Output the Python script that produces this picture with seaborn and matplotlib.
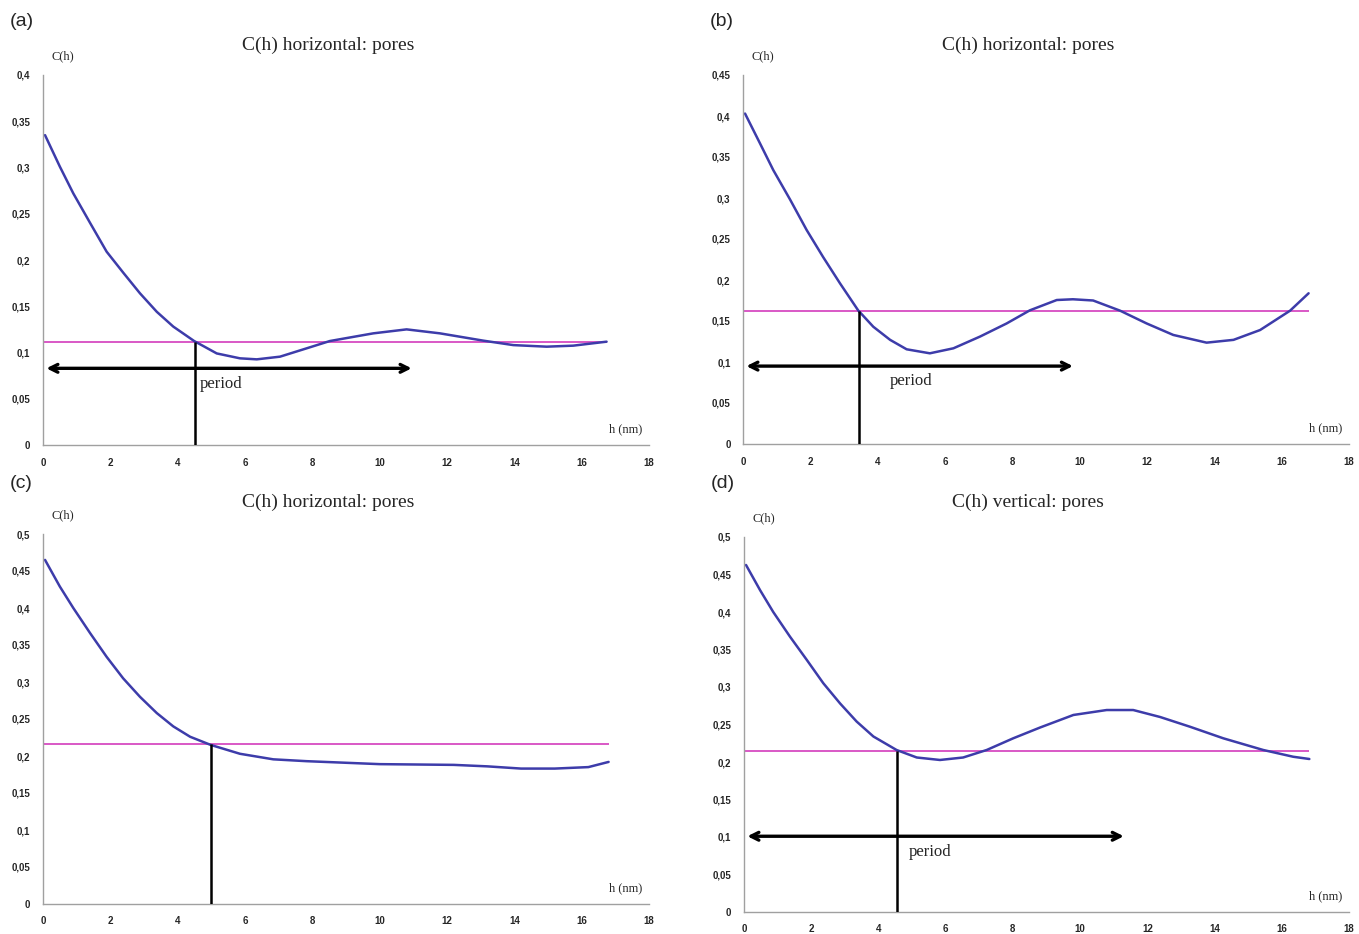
import numpy as np
import pandas as pd
import matplotlib
matplotlib.use("Agg")
import matplotlib.pyplot as plt
import seaborn as sns

sns.set_theme(style="white")
plt.rcParams["font.family"] = ["Liberation Sans", "DejaVu Sans"]

## 1. Data
# (a) horizontal pores
h_a = [0.06, 0.5, 0.9, 1.4, 1.89, 2.39, 2.88, 3.38, 3.87, 4.49, 5.16, 5.85, 6.35, 7.04, 7.83, 8.52,
       9.81, 10.8, 11.79, 13.08, 13.97, 14.96, 15.75, 16.74]
c_a = [0.335, 0.301, 0.272, 0.240, 0.209, 0.186, 0.164, 0.144, 0.128, 0.1124, 0.099, 0.0937, 0.0926,
       0.0955, 0.1045, 0.1124, 0.1207, 0.125, 0.1207, 0.1128, 0.108, 0.1063, 0.1074, 0.1117]
# (b) horizontal pores
h_b = [0.06, 0.5, 0.9, 1.4, 1.89, 2.38, 2.88, 3.42, 3.87, 4.37, 4.86, 5.55, 6.25, 7.04, 7.83, 8.52,
       9.32, 9.8, 10.4, 11.2, 11.99, 12.78, 13.77, 14.57, 15.36, 16.25, 16.8]
c_b = [0.403, 0.367, 0.334, 0.298, 0.261, 0.228, 0.196, 0.163, 0.143, 0.127, 0.1155, 0.1106, 0.1167,
       0.131, 0.147, 0.163, 0.1756, 0.1765, 0.175, 0.1626, 0.147, 0.133, 0.1236, 0.127, 0.139, 0.1626, 0.1838]
# (c) horizontal pores
h_c = [0.06, 0.5, 0.9, 1.4, 1.89, 2.38, 2.88, 3.38, 3.87, 4.37, 4.98, 5.85, 6.84, 7.83, 10.0,
       12.2, 13.2, 14.2, 15.2, 16.2, 16.8]
c_c = [0.465, 0.429, 0.400, 0.366, 0.334, 0.305, 0.280, 0.258, 0.240, 0.226, 0.215, 0.203, 0.1955,
       0.193, 0.189, 0.188, 0.186, 0.183, 0.183, 0.185, 0.192]
# (d) vertical pores
h_d = [0.06, 0.48, 0.87, 1.37, 1.87, 2.36, 2.86, 3.35, 3.85, 4.54, 5.14, 5.83, 6.52, 7.22, 8.01, 8.81,
       9.8, 10.79, 11.58, 12.38, 13.27, 14.26, 15.45, 16.34, 16.82]
c_d = [0.4627, 0.429, 0.400, 0.367, 0.336, 0.305, 0.278, 0.254, 0.234, 0.216, 0.206, 0.2027, 0.206,
       0.216, 0.2316, 0.246, 0.2627, 0.2693, 0.2693, 0.260, 0.247, 0.2316, 0.216, 0.207, 0.204]

levels = [0.1117, 0.1626, 0.2158, 0.215]     # pink reference line
cross_h = [4.5, 3.45, 4.98, 4.56]            # vertical marker
arrow_y = [0.0829, 0.095, None, 0.101]       # period arrow height
arrow_end = [10.95, 9.8, None, 11.3]
period_x = [4.66, 4.37, None, 4.9]
ymax = [0.4, 0.45, 0.5, 0.5]
titles = ["C(h) horizontal: pores", "C(h) horizontal: pores",
          "C(h) horizontal: pores", "C(h) vertical: pores"]
panel_labels = ["(a)", "(b)", "(c)", "(d)"]

curves = [(h_a, c_a), (h_b, c_b), (h_c, c_c), (h_d, c_d)]

## 2. Figure layout
W, H = 1359, 934
fig = plt.figure(figsize=(W / 100, H / 100), dpi=100)

# axes boxes in pixels: left, right, top, bottom
boxes = [(43, 649, 75, 445), (743, 1349, 75, 444),
         (43, 649, 534, 904), (744, 1349, 537, 912)]
title_y = [45, 45, 502, 502]
label_y = [22, 22, 484, 484]

blue = "#3d3caa"
pink = "#d958c6"
grey = "#a0a0a0"

for i, (hh, cc) in enumerate(curves):
    l, r, t, b = boxes[i]
    ax = fig.add_axes([l / W, 1 - b / H, (r - l) / W, (b - t) / H])
    df = pd.DataFrame({"h": hh, "C": cc})
    sns.lineplot(data=df, x="h", y="C", ax=ax, color=blue, lw=1.8)

    ax.hlines(levels[i], 0, hh[-1], color=pink, lw=1.4, zorder=1)
    ax.vlines(cross_h[i], 0, levels[i], color="black", lw=1.8, zorder=3)
    if arrow_y[i] is not None:
        ax.annotate("", xy=(0.1, arrow_y[i]), xytext=(arrow_end[i], arrow_y[i]),
                    arrowprops=dict(arrowstyle="<->", lw=2.4, color="black",
                                    mutation_scale=14, shrinkA=0, shrinkB=0))
        ax.text(period_x[i], arrow_y[i] - 0.0165 * ymax[i] / 0.4, "period",
                family="Liberation Serif", fontsize=12, va="center", ha="left")

    ax.set_xlim(0, 18)
    ax.set_ylim(0, ymax[i])
    ax.set_xticks(np.arange(0, 19, 2))
    yt = np.arange(0, ymax[i] + 1e-9, 0.05)
    ax.set_yticks(yt)
    ax.set_yticklabels([("%g" % v).replace(".", ",") for v in yt])
    ax.set_xlabel("")
    ax.set_ylabel("")
    for s in ["top", "right"]:
        ax.spines[s].set_visible(False)
    for s in ["left", "bottom"]:
        ax.spines[s].set_color(grey)
        ax.spines[s].set_linewidth(1.0)
    ax.tick_params(axis="both", length=3, width=0.8, color=grey, direction="out",
                   labelsize=7, pad=6)
    for lab in ax.get_xticklabels() + ax.get_yticklabels():
        lab.set_fontweight("bold")

    ax.text(17.3, 0.042, "h (nm)", transform=ax.get_xaxis_transform(),
            family="Liberation Serif", fontsize=9, ha="center", va="center")
    fig.text((l + 20) / W, 1 - (t - 19) / H, "C(h)", family="Liberation Serif",
             fontsize=9, ha="center", va="center")
    fig.text((l + (r - l) * 0.47) / W, 1 - title_y[i] / H, titles[i],
             family="Liberation Serif", fontsize=14, ha="center", va="center")
    fig.text((l - 33) / W, 1 - label_y[i] / H, panel_labels[i],
             fontsize=14, ha="left", va="center")

fig.savefig("out.png", dpi=100)
